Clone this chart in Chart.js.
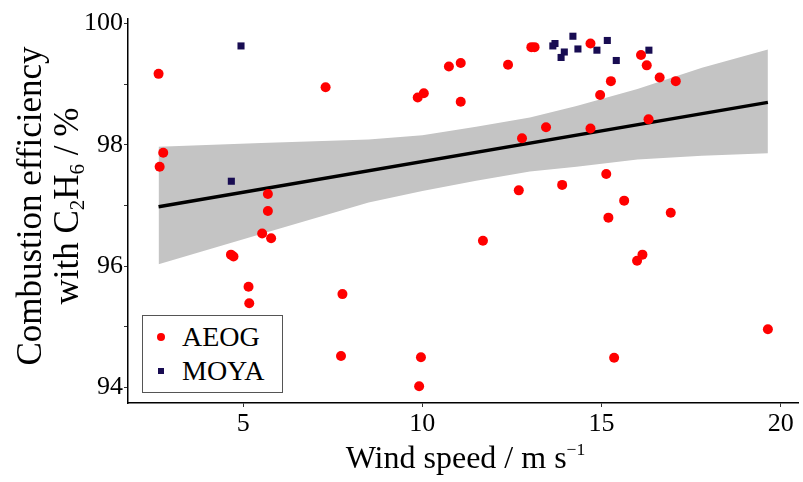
<!DOCTYPE html>
<html>
<head>
<meta charset="utf-8">
<script src="https://cdn.jsdelivr.net/npm/chart.js@4.4.1/dist/chart.umd.min.js"></script>
<style>
  body { margin: 0; background: #fff; }
  #wrap { position: relative; width: 803px; height: 482px; font-family: "Liberation Serif", "Times New Roman", serif; color: #000; }
  #chart { position: absolute; left: 0; top: 0; }
  .x-title { position: absolute; left: 128px; width: 675px; top: 437px; text-align: center; font-size: 32px; line-height: 40px; white-space: nowrap; }
  .x-title sup { font-size: 0.55em; vertical-align: 0.75em; line-height: 0; }
  .y-title { position: absolute; left: -162px; top: 169px; width: 420px; height: 74px; text-align: center; font-size: 35px; line-height: 37px; transform: rotate(-90deg); white-space: nowrap; }
  .y-title sub { font-size: 0.6em; vertical-align: -0.3em; line-height: 0; }
  .legend { position: absolute; left: 142px; top: 315px; width: 139px; height: 76px; border: 1.5px solid #555; background: #fff; font-size: 28px; }
  .legend .row { position: absolute; left: 0; height: 34px; line-height: 34px; }
  .legend .mark { position: absolute; }
  .legend .dot { left: 14px; top: 13px; width: 8px; height: 8px; border-radius: 50%; background: #ff0000; }
  .legend .sq { left: 15px; top: 14px; width: 6px; height: 6px; background: #180c52; }
  .legend .lbl { position: absolute; left: 39px; top: 0; }
</style>
</head>
<body>
<div id="wrap">
  <canvas id="chart" width="803" height="482"></canvas>
  <div class="y-title">Combustion efficiency<br>with C<sub>2</sub>H<sub>6</sub> / %</div>
  <div class="x-title">Wind speed / m s<sup>&minus;1</sup></div>
  <div class="legend">
    <div class="row" style="top:4px"><span class="mark dot"></span><span class="lbl">AEOG</span></div>
    <div class="row" style="top:38px"><span class="mark sq"></span><span class="lbl">MOYA</span></div>
  </div>
</div>
<script>
// wind speed (m/s) vs combustion efficiency (%)
var aeogX = [2.64, 2.77, 2.67, 7.30, 9.87, 10.04, 10.74, 11.07, 11.07, 12.39, 13.04, 13.13,
  14.69, 16.10, 16.26, 16.62, 17.07, 15.26, 14.96, 13.45, 12.78, 14.69, 16.31, 15.13,
  13.90, 12.69, 15.63, 16.93, 15.19, 5.69, 5.69, 5.53, 5.78, 4.66, 4.73, 5.15,
  5.17, 7.77, 7.73, 9.96, 9.91, 11.69, 16.14, 15.99, 19.64, 15.35];
var aeogY = [99.17, 97.87, 97.64, 98.95, 98.78, 98.85, 99.29, 99.35, 98.71, 99.32, 99.61, 99.61,
  99.67, 99.48, 99.31, 99.11, 99.05, 99.05, 98.82, 98.29, 98.11, 98.27, 98.42, 97.52,
  97.34, 97.25, 97.08, 96.88, 96.80, 97.19, 96.91, 96.54, 96.46, 96.19, 96.16, 95.66,
  95.39, 95.54, 94.52, 94.50, 94.02, 96.42, 96.19, 96.09, 94.96, 94.49];

var moyaX = [4.94, 4.67, 13.70, 13.64, 13.96, 13.87, 14.20, 14.34, 14.87, 15.16, 15.41, 16.32];
var moyaY = [99.63, 97.40, 99.67, 99.63, 99.53, 99.44, 99.79, 99.58, 99.56, 99.72, 99.39, 99.56];

// linear fit and its confidence band
var fitX = [2.64, 19.64];
var fitY = [96.98, 98.70];
var bandX = [2.64, 5.5, 8.5, 10, 11.5, 13, 14.3, 16, 17.8, 19.64];
var bandUpper = [97.97, 98.03, 98.09, 98.16, 98.30, 98.45, 98.64, 98.92, 99.27, 99.57];
var bandLower = [96.03, 96.53, 97.05, 97.24, 97.41, 97.56, 97.64, 97.76, 97.82, 97.86];

var xTicks = [5, 10, 15, 20];
var yTicks = [94, 95, 96, 97, 98, 99, 100];
var yLabels = ["94", "", "96", "", "98", "", "100"];

var FONT = "'Liberation Serif', 'Times New Roman', serif";

function pts(xs, ys) {
  return xs.map(function (x, i) { return { x: x, y: ys[i] }; });
}

function fixTicks(values) {
  return function (scale) {
    scale.ticks = values.map(function (v) { return { value: v }; });
  };
}

new Chart(document.getElementById("chart"), {
  type: "scatter",
  data: {
    datasets: [
      {
        label: "AEOG",
        data: pts(aeogX, aeogY),
        pointRadius: 5,
        pointBackgroundColor: "#ff0000",
        pointBorderWidth: 0,
        order: 0
      },
      {
        label: "MOYA",
        data: pts(moyaX, moyaY),
        pointStyle: "rect",
        pointRadius: 5,
        pointBackgroundColor: "#180c52",
        pointBorderWidth: 0,
        order: 0
      },
      {
        label: "fit",
        data: pts(fitX, fitY),
        showLine: true,
        pointRadius: 0,
        borderColor: "#000",
        borderWidth: 3.5,
        order: 1
      },
      {
        label: "lower",
        data: pts(bandX, bandLower),
        showLine: true,
        pointRadius: 0,
        borderColor: "transparent",
        borderWidth: 0,
        tension: 0,
        fill: false,
        order: 2
      },
      {
        label: "upper",
        data: pts(bandX, bandUpper),
        showLine: true,
        pointRadius: 0,
        borderColor: "transparent",
        borderWidth: 0,
        tension: 0,
        backgroundColor: "#c4c4c4",
        fill: "-1",
        order: 2
      }
    ]
  },
  options: {
    responsive: false,
    animation: false,
    layout: { padding: { top: 19, right: 0, left: 0, bottom: 0 } },
    plugins: {
      legend: { display: false },
      tooltip: { enabled: false }
    },
    scales: {
      x: {
        type: "linear",
        min: 1.787,
        max: 20.48,
        afterBuildTicks: fixTicks(xTicks),
        afterFit: function (scale) { scale.height = 79; },
        grid: { drawOnChartArea: false, drawTicks: true, tickLength: 4, color: "#333" },
        border: { display: true, color: "#000", width: 1.5 },
        ticks: { font: { family: FONT, size: 26 }, color: "#000", padding: 2, maxRotation: 0, autoSkip: false }
      },
      y: {
        min: 93.745,
        max: 100.074,
        afterBuildTicks: fixTicks(yTicks),
        afterFit: function (scale) { scale.width = 128; },
        grid: { drawOnChartArea: false, drawTicks: true, tickLength: 4, color: "#333" },
        border: { display: true, color: "#000", width: 1.5 },
        ticks: {
          font: { family: FONT, size: 26 },
          color: "#000",
          padding: 1,
          autoSkip: false,
          callback: function (value, i) { return yLabels[i]; }
        }
      }
    }
  }
});
</script>
</body>
</html>
